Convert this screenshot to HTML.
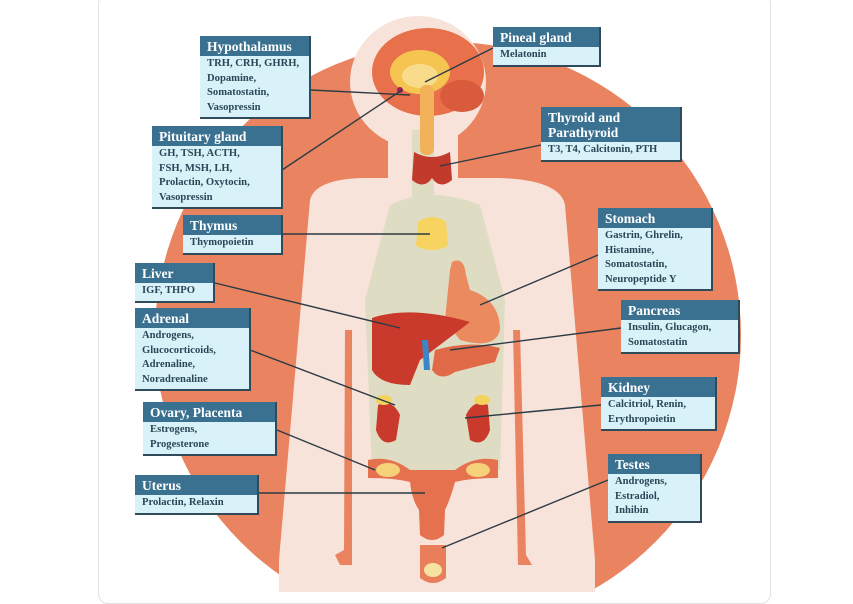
<!DOCTYPE html>
<html><head><meta charset="utf-8"><style>
*{margin:0;padding:0;box-sizing:border-box}
body{width:853px;height:592px;background:#fff;position:relative;overflow:hidden;font-family:"Liberation Serif",serif}
.card{position:absolute;left:98px;top:-6px;width:673px;height:610px;border:1px solid #e2e2e2;border-radius:10px;background:#fff}
svg{position:absolute;left:0;top:0}
.lb{position:absolute;background:#d9f2f9;border-right:2px solid #2f4a58;border-bottom:2px solid #2f4a58}
.lb .h{background:#3b7190;color:#fff;font-weight:bold;font-size:13.5px;line-height:15px;padding:3px 6px 2px 7px}
.lb .b{color:#2b4757;font-weight:bold;font-size:10.6px;line-height:14.6px;padding:1px 6px 2px 7px;white-space:nowrap}
</style></head><body>
<div class="card"></div>
<svg width="853" height="592" viewBox="0 0 853 592">
<defs><clipPath id="c"><rect x="99" y="0" width="671" height="592"/></clipPath></defs>
<g clip-path="url(#c)">
<circle cx="448" cy="335" r="293" fill="#ea8460"/>
<!-- body silhouette -->
<g fill="#f8e3da">
<ellipse cx="418" cy="82" rx="68" ry="66"/>
<rect x="388" y="110" width="70" height="90"/>
<path d="M310 200 Q315 180 360 178 L500 178 Q560 180 565 205 L595 560 L595 600 L279 600 L279 560 Z"/>
</g>
<!-- arm gaps -->
<g fill="#ea8460">
<path d="M345 330 L352 330 L352 565 L340 565 L335 555 L344 550 Z"/>
<path d="M513 330 L520 330 L526 555 L532 565 L518 565 Z"/>
</g>
<!-- organ background -->
<g fill="#dedcc2">
<path d="M390 205 Q430 185 480 205 L505 300 L500 470 Q440 480 372 470 L365 300 Z"/>
<rect x="412" y="130" width="22" height="70"/>
</g>
<!-- brain -->
<ellipse cx="428" cy="72" rx="56" ry="44" fill="#e8704b"/>
<ellipse cx="420" cy="72" rx="30" ry="22" fill="#f5c451"/>
<ellipse cx="420" cy="76" rx="18" ry="12" fill="#f8dc8c"/>
<ellipse cx="462" cy="96" rx="22" ry="16" fill="#d95a3c"/>
<rect x="420" y="85" width="14" height="70" rx="6" fill="#f2b25a"/>
<circle cx="400" cy="90" r="3" fill="#9b1f5a"/>
<!-- thyroid -->
<path d="M414 152 Q432 162 450 152 L452 180 Q440 190 432 178 Q424 190 412 180 Z" fill="#c13a2c"/>
<!-- thymus -->
<path d="M418 222 Q432 212 446 222 L448 246 Q432 254 416 246 Z" fill="#f7d360"/>
<!-- stomach -->
<path d="M452 262 Q464 256 466 275 L470 290 Q500 300 500 330 Q495 350 460 340 L445 320 Q448 290 450 270 Z" fill="#ec8a5f"/>
<!-- liver -->
<path d="M372 318 Q410 305 470 322 Q440 345 420 360 L410 385 Q380 385 372 370 Z" fill="#c93a2d"/>
<!-- pancreas -->
<path d="M435 350 Q470 340 500 348 L495 362 Q470 368 455 372 Q440 382 432 370 Z" fill="#e06a48"/>
<path d="M422 340 L428 340 L430 370 L424 370 Z" fill="#3b86c8"/>
<!-- kidneys -->
<path d="M378 405 Q392 398 400 415 L396 440 Q382 448 376 430 Z" fill="#c93a2d"/>
<path d="M488 405 Q474 398 466 415 L470 440 Q484 448 490 430 Z" fill="#c93a2d"/>
<ellipse cx="384" cy="400" rx="8" ry="5" fill="#f3d35c"/>
<ellipse cx="482" cy="400" rx="8" ry="5" fill="#f3d35c"/>
<!-- uterus -->
<path d="M368 460 Q390 455 410 470 L455 470 Q475 455 498 460 L498 478 Q470 478 455 482 Q450 500 445 510 L444 535 Q432 545 420 535 L419 510 Q412 500 410 482 Q395 478 368 478 Z" fill="#e5714f"/>
<ellipse cx="388" cy="470" rx="12" ry="7" fill="#f5d27a"/>
<ellipse cx="478" cy="470" rx="12" ry="7" fill="#f5d27a"/>
<!-- testes -->
<path d="M420 545 L446 545 L446 578 Q433 588 420 578 Z" fill="#e97e5a"/>
<ellipse cx="433" cy="570" rx="9" ry="7" fill="#f6e3a2"/>
<!-- lines -->
<g stroke="#2c3b45" stroke-width="1.4" fill="none">
<line x1="311" y1="90" x2="410" y2="95"/>
<line x1="493" y1="48" x2="425" y2="82"/>
<line x1="282" y1="170" x2="402" y2="90"/>
<line x1="541" y1="145" x2="440" y2="166"/>
<line x1="283" y1="234" x2="430" y2="234"/>
<line x1="598" y1="255" x2="480" y2="305"/>
<line x1="215" y1="283" x2="400" y2="328"/>
<line x1="250" y1="350" x2="395" y2="405"/>
<line x1="621" y1="328" x2="450" y2="350"/>
<line x1="601" y1="405" x2="465" y2="418"/>
<line x1="277" y1="430" x2="375" y2="470"/>
<line x1="259" y1="493" x2="425" y2="493"/>
<line x1="608" y1="480" x2="442" y2="548"/>
</g>
</g>
</svg>
<div class="lb" style="left:200px;top:36px;width:111px"><div class="h">Hypothalamus</div><div class="b">TRH, CRH, GHRH,<br>Dopamine,<br>Somatostatin,<br>Vasopressin</div></div>
<div class="lb" style="left:493px;top:27px;width:108px"><div class="h">Pineal gland</div><div class="b">Melatonin</div></div>
<div class="lb" style="left:152px;top:126px;width:131px"><div class="h">Pituitary gland</div><div class="b">GH, TSH, ACTH,<br>FSH, MSH, LH,<br>Prolactin, Oxytocin,<br>Vasopressin</div></div>
<div class="lb" style="left:541px;top:107px;width:141px"><div class="h">Thyroid and<br>Parathyroid</div><div class="b">T3, T4, Calcitonin, PTH</div></div>
<div class="lb" style="left:183px;top:215px;width:100px"><div class="h">Thymus</div><div class="b">Thymopoietin</div></div>
<div class="lb" style="left:598px;top:208px;width:115px"><div class="h">Stomach</div><div class="b">Gastrin, Ghrelin,<br>Histamine,<br>Somatostatin,<br>Neuropeptide Y</div></div>
<div class="lb" style="left:135px;top:263px;width:80px"><div class="h">Liver</div><div class="b">IGF, THPO</div></div>
<div class="lb" style="left:135px;top:308px;width:116px"><div class="h">Adrenal</div><div class="b">Androgens,<br>Glucocorticoids,<br>Adrenaline,<br>Noradrenaline</div></div>
<div class="lb" style="left:621px;top:300px;width:119px"><div class="h">Pancreas</div><div class="b">Insulin, Glucagon,<br>Somatostatin</div></div>
<div class="lb" style="left:601px;top:377px;width:116px"><div class="h">Kidney</div><div class="b">Calcitriol, Renin,<br>Erythropoietin</div></div>
<div class="lb" style="left:143px;top:402px;width:134px"><div class="h">Ovary, Placenta</div><div class="b">Estrogens,<br>Progesterone</div></div>
<div class="lb" style="left:135px;top:475px;width:124px"><div class="h">Uterus</div><div class="b">Prolactin, Relaxin</div></div>
<div class="lb" style="left:608px;top:454px;width:94px"><div class="h">Testes</div><div class="b">Androgens,<br>Estradiol,<br>Inhibin</div></div>
</body></html>
